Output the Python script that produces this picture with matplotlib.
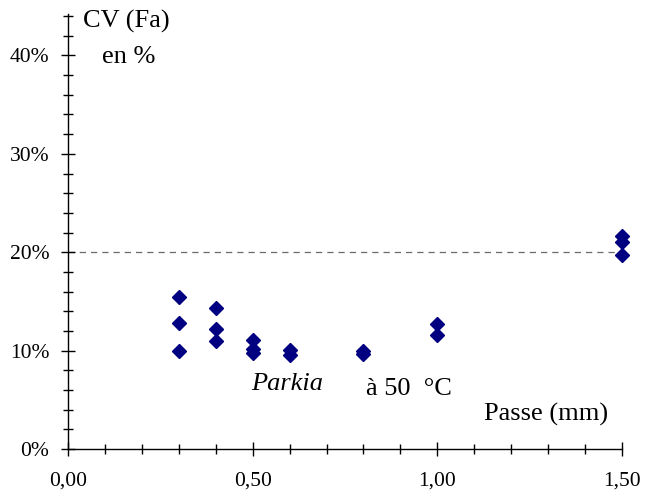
import matplotlib
matplotlib.use("Agg")
import matplotlib.pyplot as plt
from matplotlib.ticker import MultipleLocator, FuncFormatter

plt.rcParams['font.family'] = ['Liberation Serif', 'DejaVu Serif']

passe_x = [0.3, 0.3, 0.3, 0.4, 0.4, 0.4, 0.5, 0.5, 0.5, 0.6, 0.6, 0.8, 0.8, 1.0, 1.0, 1.5, 1.5, 1.5]
cv_y = [0.154, 0.128, 0.100, 0.143, 0.122, 0.110, 0.111, 0.102, 0.098, 0.101, 0.096,
        0.100, 0.097, 0.127, 0.116, 0.216, 0.210, 0.197]
x_ticks = [0.0, 0.5, 1.0, 1.5]
y_ticks = [0.0, 0.1, 0.2, 0.3, 0.4]
ref_level = 0.20

fig = plt.figure(figsize=(6.5, 4.97), dpi=100)
ax = fig.add_axes([0.1046, 0.0966, 0.8523, 0.875])

ax.plot([0, 1.5], [ref_level, ref_level], linestyle=(0, (5, 4)), color='#6a6a6a', lw=0.9, zorder=1)
ax.plot(passe_x, cv_y, linestyle='none', marker='D', markersize=7.3,
        color='#000080', markeredgecolor='#000080', zorder=3, clip_on=False)

ax.set_xlim(0, 1.5)
ax.set_ylim(0, 0.442)
ax.set_xticks(x_ticks)
ax.set_yticks(y_ticks)
ax.xaxis.set_minor_locator(MultipleLocator(0.1))
ax.yaxis.set_minor_locator(MultipleLocator(0.02))
ax.xaxis.set_major_formatter(FuncFormatter(lambda v, p: f"{v:.2f}".replace('.', ',')))
ax.yaxis.set_major_formatter(FuncFormatter(lambda v, p: f"{v*100:.0f}%"))

for s in ['top', 'right']:
    ax.spines[s].set_visible(False)
for s in ['left', 'bottom']:
    ax.spines[s].set_linewidth(1.0)

ax.tick_params(axis='both', which='major', direction='inout', length=10, width=1.0,
               labelsize=15.5, colors='black')
ax.tick_params(axis='both', which='minor', direction='inout', length=7, width=1.0)
ax.tick_params(axis='x', which='major', pad=11.5)
ax.tick_params(axis='y', which='major', pad=8.5)

fs = 19
fig.text(0.127, 0.956, "CV (Fa)", fontsize=fs, ha='left', va='center')
fig.text(0.157, 0.886, "en %", fontsize=fs, ha='left', va='center')
fig.text(0.386, 0.227, "Parkia", fontsize=fs, style='italic', ha='left', va='center')
fig.text(0.563, 0.217, "à 50  °C", fontsize=fs, ha='left', va='center')
fig.text(0.744, 0.167, "Passe (mm)", fontsize=fs, ha='left', va='center')

fig.savefig("out.png", dpi=100)
